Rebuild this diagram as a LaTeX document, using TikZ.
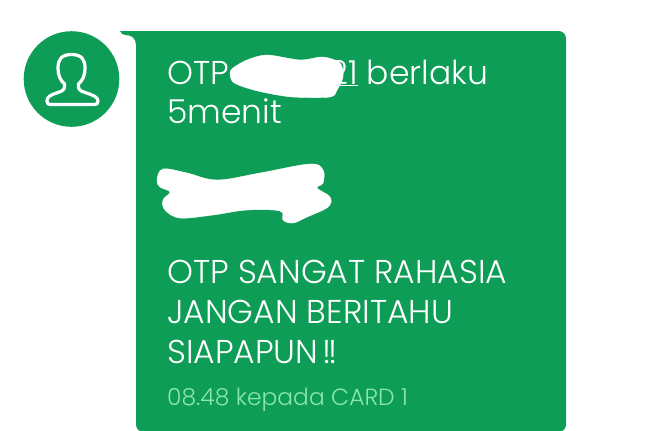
\documentclass[tikz,border=0pt]{standalone}
\usepackage{fontspec}
\setmainfont{Poppins}[UprightFont=* Light]
\definecolor{bubblegreen}{RGB}{14,157,86}
\definecolor{timegreen}{RGB}{140,230,172}
\tikzset{
  msgtext/.style={anchor=base west, inner sep=0pt, text=white, font=\fontsize{33}{33}\selectfont},
  smalltext/.style={anchor=base west, inner sep=0pt, text=timegreen, font=\fontsize{23.4}{23.4}\selectfont},
  blob/.style={fill=white, draw=white, line join=round},
}
\begin{document}
\begin{tikzpicture}[x=1pt, y=-1pt]
  \useasboundingbox (0,0) rectangle (670,431);

  % avatar
  \fill[bubblegreen] (71.5,79) circle (47.8);
  \draw[white, line width=3.2pt, line join=round]
    (71.5,54.5) .. controls (61,54.5) and (58,60) .. (58,68)
    .. controls (58,75) and (60,80) .. (64.5,84)
    .. controls (65.5,89) and (63,91) .. (58,92.5)
    .. controls (50,95) and (47,97) .. (47,101)
    .. controls (47,104) and (48,104.5) .. (51,104.5)
    -- (94,104.5)
    .. controls (97,104.5) and (98,104) .. (98,101)
    .. controls (98,97) and (93,95) .. (85,92.5)
    .. controls (80,91) and (77.5,89) .. (78.5,84)
    .. controls (83,80) and (85,75) .. (85,68)
    .. controls (85,60) and (82,54.5) .. (71.5,54.5) -- cycle;

  % bubble with its tail
  \fill[bubblegreen] (120,31) -- (558,31)
    .. controls (563,31) and (566,34) .. (566,39)
    -- (566,424)
    .. controls (566,429) and (563,432) .. (558,432)
    -- (144,432)
    .. controls (139,432) and (136,429) .. (136,424)
    -- (136,45)
    .. controls (136,38) and (131,35) .. (126,35)
    .. controls (123,35) and (121,34) .. (120,31) -- cycle;

  \node[msgtext] (otp) at (167,84) {OTP};
  \node[msgtext] (berlaku) at (329,84) {\underline{21} berlaku};
  \node[msgtext] (menit) at (167,123) {5menit};
  \node[msgtext] (rahasia) at (167,283) {OTP SANGAT RAHASIA};
  \node[msgtext] (jangan) at (167,323) {JANGAN BERITAHU};
  \node[msgtext] (siapa) at (167,363) {SIAPAPUN\kern-5pt{} !\kern-3pt!};
  \node[smalltext] (waktu) at (167,405) {08.48 kepada CARD 1};

  % white scribbles
  \draw[blob] plot[smooth cycle, tension=0.5] coordinates {(230,73) (233,68) (247,60) (267,55) (300,60) (323,57) (340,63) (343,77) (337,90) (330,97) (293,97) (267,93) (247,88) (233,82)};
  \draw[blob] plot[smooth cycle, tension=0.6] coordinates {(157,180) (163,169) (187,173) (217,180) (260,173) (310,164) (323,170) (323,183) (317,188) (330,197) (328,207) (307,217) (293,223) (283,220) (280,211) (247,210) (213,215) (180,218) (165,210) (163,200) (170,192) (160,187)};
\end{tikzpicture}
\end{document}
